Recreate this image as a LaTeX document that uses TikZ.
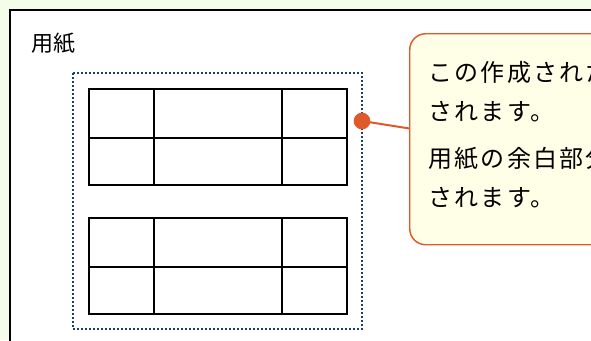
\documentclass[tikz,border=0pt]{standalone}
\usepackage{fontspec}
\newfontfamily\jpfont[LetterSpace=2]{Noto Sans CJK JP}
\newfontfamily\jpnote[LetterSpace=9.5]{Noto Sans CJK JP}
\usetikzlibrary{positioning}

\definecolor{bgGreen}{HTML}{F3FDE9}
\definecolor{dotBlue}{HTML}{1B3F6B}
\definecolor{noteFill}{HTML}{FFFEE6}
\definecolor{noteLine}{HTML}{E0592A}

\begin{document}
\begin{tikzpicture}[
    x=0.75pt, y=-0.75pt,
    paper/.style={draw=black, line width=1.5pt, fill=white},
    margin/.style={draw=dotBlue, line width=1.6pt, dash pattern=on 1.5pt off 1.5pt},
    grid line/.style={line width=1.9pt, line cap=rect},
    note/.style={draw=noteLine, line width=1.1pt, fill=noteFill, rounded corners=12pt, anchor=north west, minimum width=300pt, minimum height=158.25pt, inner sep=0pt},
    note text/.style={anchor=base west, inner sep=0pt, font=\jpnote\fontsize{18pt}{22pt}\selectfont},
    pin dot/.style={circle, fill=noteLine, inner sep=0pt, minimum size=12.5pt},
    pin line/.style={draw=noteLine, line width=1.5pt}
]
\useasboundingbox (0,0) rectangle (591,340);
\clip (0,0) rectangle (591,340);
\fill[bgGreen] (0,0) rectangle (591,340);

% Paper
\draw[paper] (10,10) rectangle (620,370);
\node[anchor=base west, inner sep=0pt, font=\jpfont\fontsize{16.5pt}{20pt}\selectfont] (paperlabel) at (31,51) {用紙};

% Printable area
\coordinate (areaNW) at (73,73);
\coordinate (areaSE) at (362,329);
\draw[margin] (areaNW) rectangle (areaSE);

% Tables
\foreach \name/\top in {tabA/89, tabB/218} {
  \coordinate (\name NW) at (89,\top);
  \coordinate (\name SE) at (347,\top+96);
  \draw[grid line] (\name NW) rectangle (\name SE);
  \draw[grid line] (89,\top+49) -- (347,\top+49);
  \draw[grid line] (154,\top) -- (154,\top+96);
  \draw[grid line] (282,\top) -- (282,\top+96);
}

% Callout
\node[note] (note) at (409,33) {};
\node[note text] (noteA) at (428,81) {この作成された};
\node[note text] (noteB) at (428,120) {されます。};
\node[note text] (noteC) at (428,167) {用紙の余白部分};
\node[note text] (noteD) at (428,206) {されます。};

% Pointer
\node[pin dot] (pin) at (362,121) {};
\coordinate (pinEnd) at (409.5,128.5);
\draw[pin line] (pin.center) -- (pinEnd);

\end{tikzpicture}
\end{document}
